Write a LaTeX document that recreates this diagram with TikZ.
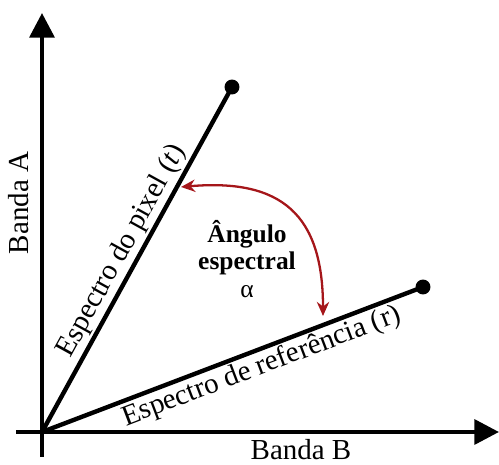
\documentclass[tikz,border=0pt]{standalone}
\usepackage{fontspec}
\setmainfont{Liberation Serif}
\usetikzlibrary{arrows.meta}
\definecolor{arcred}{RGB}{165,22,26}
\begin{document}
\begin{tikzpicture}[x=0.02cm,y=0.02cm,
    axis/.style={line width=2.5pt,-{Triangle[length=14pt,width=14pt]}},
    vec/.style={line width=2.5pt},
    dot/.style={circle,fill,inner sep=0pt,minimum size=8.5pt},
    lbl/.style={font=\fontsize{16.5}{19}\selectfont},
    arc/.style={arcred,line width=1.3pt,
      {Stealth[length=8pt,width=7pt]}-{Stealth[length=8pt,width=7pt]}}]
  \useasboundingbox (-42,-33) rectangle (457,432);
  \coordinate (O) at (0,0);
  \coordinate (xl) at (-26,0);
  \coordinate (xr) at (457,0);
  \coordinate (yb) at (0,-25);
  \coordinate (yt) at (0,419);
  \draw[axis] (xl) -- (xr);
  \draw[axis] (yb) -- (yt);
  \node[lbl] (bandab) at (259,-18) {Banda B};
  \node[lbl,rotate=90] (bandaa) at (-23,229) {Banda A};
  \node[dot] (t) at (190,345) {};
  \node[dot] (r) at (381,145) {};
  \draw[vec] (O) -- (t.center)
    node[lbl,sloped,above,pos=0.5,inner sep=1pt] (tlbl) {Espectro do pixel (\textit{t})};
  \draw[vec] (O) -- (r.center)
    node[lbl,sloped,below,pos=0.56,inner sep=1pt] (rlbl) {Espectro de referência (r)};
  \coordinate (at) at (139,245);
  \coordinate (ar) at (281,116);
  \draw[arc] (at) to[out=5,in=90,looseness=1.35] (ar);
  \node[font=\fontsize{14.5}{15.5}\selectfont,align=center] (ang) at (205,173)
    {\textbf{Ângulo}\\\textbf{espectral}\\α};
\end{tikzpicture}
\end{document}
